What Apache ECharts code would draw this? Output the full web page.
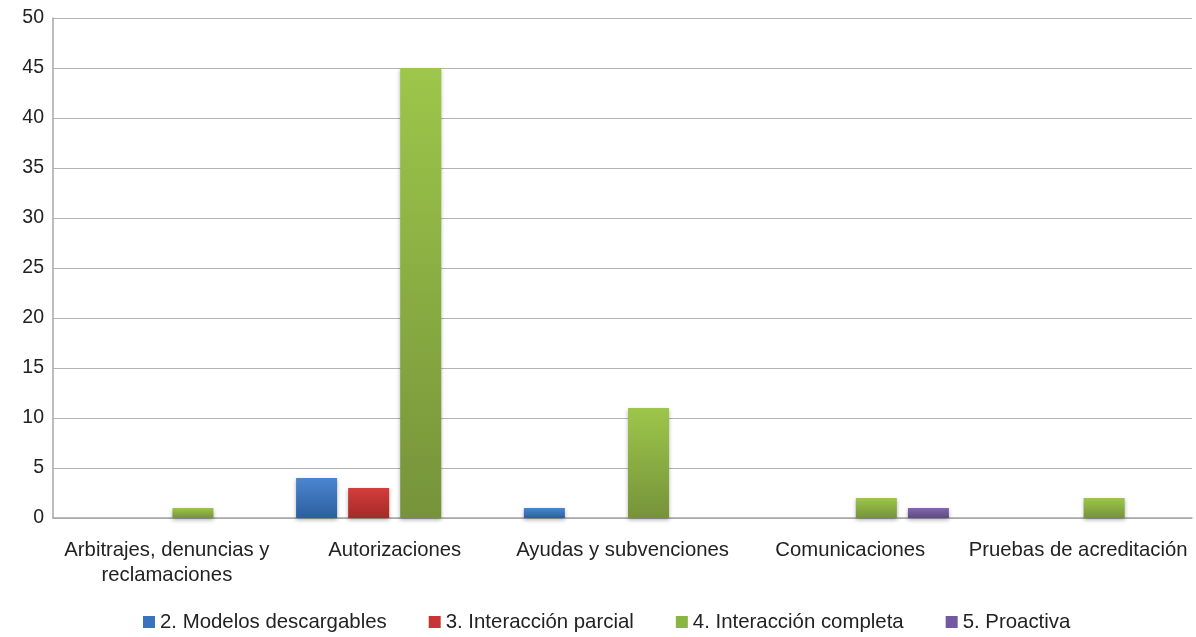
<!DOCTYPE html>
<html><head><meta charset="utf-8">
<script src="https://cdn.jsdelivr.net/npm/echarts@6/dist/echarts.min.js"></script>
<style>html,body{margin:0;padding:0;background:#fff}#c{width:1196px;height:637px}</style>
</head><body><div id="c"></div>
<script>
const categories = ["Arbitrajes, denuncias y\nreclamaciones", "Autorizaciones", "Ayudas y subvenciones", "Comunicaciones", "Pruebas de acreditación"];
const seriesNames = ["2. Modelos descargables", "3. Interacción parcial", "4. Interacción completa", "5. Proactiva"];
const modelos = [null, 4, 1, null, null];
const parcial = [null, 3, null, null, null];
const completa = [1, 45, 11, 2, 2];
const proactiva = [null, null, null, 1, null];
const yTicks = {min: 0, max: 50, interval: 5};

const colors = [["#4a87d0", "#2d5e9e"], ["#d43d3a", "#a32a28"], ["#9dc64a", "#76933a"], ["#8466ab", "#5f4a82"]];
const legendColors = ["#3a73bd", "#c73634", "#8ab543", "#7359a0"];
const font = "Liberation Sans";
function grad(c){return new echarts.graphic.LinearGradient(0,0,0,1,[{offset:0,color:c[0]},{offset:1,color:c[1]}]);}
const datas = [modelos, parcial, completa, proactiva];
const chart = echarts.init(document.getElementById('c'));
chart.setOption({
  animation: false,
  textStyle: {fontFamily: font},
  grid: {left: 53, right: 4, top: 18, bottom: 119, containLabel: false},
  legend: {
    bottom: 0, left: 138, itemWidth: 12, itemHeight: 12, itemGap: 42,
    icon: 'rect',
    textStyle: {fontFamily: font, fontSize: 20.4, color: '#222'},
    data: seriesNames.map((n, i) => ({name: n, itemStyle: {color: legendColors[i]}}))
  },
  xAxis: {
    type: 'category', data: categories,
    axisLine: {lineStyle: {color: '#a6a6a6', width: 1.5}},
    axisTick: {show: false},
    axisLabel: {color: '#222', fontSize: 20.3, margin: 20, lineHeight: 25, interval: 0}
  },
  yAxis: {
    type: 'value', min: yTicks.min, max: yTicks.max, interval: yTicks.interval,
    axisLine: {show: true, lineStyle: {color: '#a6a6a6', width: 1.5}},
    axisTick: {show: false},
    splitLine: {lineStyle: {color: '#b3b3b3', width: 1.2}},
    axisLabel: {color: '#222', fontSize: 19.5, margin: 9}
  },
  series: seriesNames.map((n, i) => ({
    name: n, type: 'bar', data: datas[i],
    barWidth: '18%', barGap: '27%',
    itemStyle: {color: grad(colors[i]), shadowColor: 'rgba(0,0,0,0.3)', shadowBlur: 4, shadowOffsetY: 2}
  }))
});
</script></body></html>
